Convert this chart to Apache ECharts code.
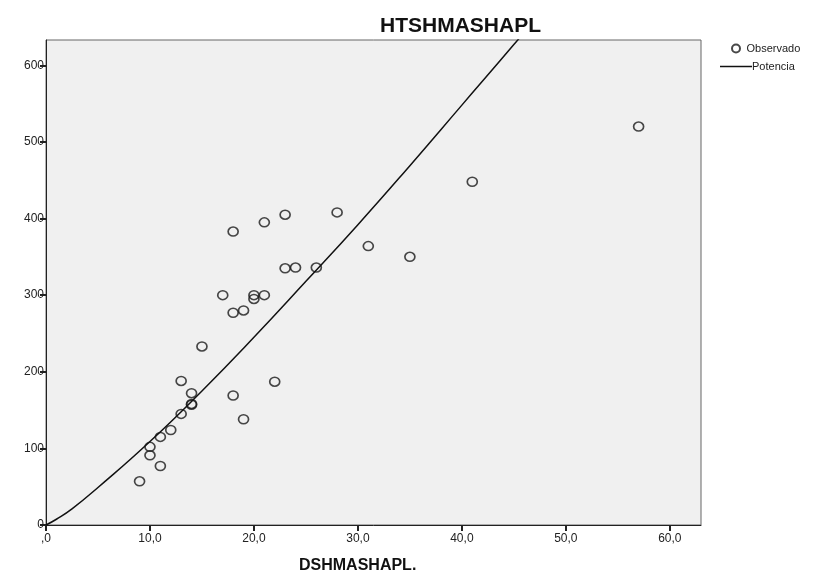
<!DOCTYPE html>
<html>
<head>
<meta charset="utf-8">
<script src="https://cdn.jsdelivr.net/npm/echarts@6/dist/echarts.min.js"></script>
<style>html,body{margin:0;padding:0;background:#fff}#c{width:835px;height:578px}</style>
</head>
<body>
<div id="c"></div>
<script>
// Observed points (DSHMASHAPL., HTSHMASHAPL)
const obsX = [9, 11, 10, 10, 11, 12, 13, 14, 14, 14, 13, 15, 18, 19, 17, 20, 20, 21, 18, 19, 22, 18, 21, 23, 28, 23, 24, 26, 31, 35, 41, 57];
const obsY = [57, 77, 91, 102, 115, 124, 145, 157, 158, 172, 188, 233, 277, 280, 300, 300, 295, 300, 169, 138, 187, 383, 395, 405, 408, 335, 336, 336, 364, 350, 448, 520];
// Power-fit curve ("Potencia") points
const fitX = [0, 1, 2.5, 5, 10, 15, 20, 25, 30, 35, 40, 45, 50];
const fitY = [0, 7.5, 21, 49, 109, 175, 245, 318, 392, 469, 548, 627, 708];
const xTicks = [0, 10, 20, 30, 40, 50, 60];
const yTicks = [0, 100, 200, 300, 400, 500, 600];

const font = 'Liberation Sans, Arial, sans-serif';
const chart = echarts.init(document.getElementById('c'));
chart.setOption({
  animation: false,
  backgroundColor: '#fff',
  title: [
    {text: 'HTSHMASHAPL', left: 375, top: 11, textStyle: {fontFamily: font, fontSize: 21, fontWeight: 'bold', color: '#111'}},
    {text: 'DSHMASHAPL.', left: 294, top: 553, textStyle: {fontFamily: font, fontSize: 16, fontWeight: 'bold', color: '#111'}}
  ],
  legend: [
    {data: ['Observado'], left: 726, top: 38, orient: 'vertical', icon: 'circle', itemWidth: 9, itemHeight: 8, itemGap: 2,
     textStyle: {fontFamily: font, fontSize: 11, color: '#222', padding: [0,0,0,1]}},
    {data: ['Potencia'], left: 715, top: 56, orient: 'vertical', icon: 'rect', itemWidth: 32, itemHeight: 1.5, itemGap: 2,
     textStyle: {fontFamily: font, fontSize: 11, color: '#222', padding: [0,0,0,-5]}}
  ],
  grid: {left: 46, right: 134, top: 40, bottom: 53, show: true, backgroundColor: '#f0f0f0', borderColor: '#666', borderWidth: 1},
  xAxis: {
    type: 'value', min: 0, max: 63, interval: 10,
    axisLine: {show: true, onZero: false, lineStyle: {color: '#222', width: 1}},
    axisTick: {show: true, length: 6, lineStyle: {color: '#222', width: 2}, customValues: xTicks},
    axisLabel: {fontFamily: font, fontSize: 12, color: '#222', margin: 8, customValues: xTicks,
      formatter: v => (v === 0 ? ',0' : v.toFixed(1).replace('.', ','))},
    splitLine: {show: false}
  },
  yAxis: {
    type: 'value', min: 0, max: 633, interval: 100,
    axisLine: {show: true, onZero: false, lineStyle: {color: '#222', width: 1}},
    axisTick: {show: true, length: 6, lineStyle: {color: '#222', width: 2}, customValues: yTicks},
    axisLabel: {fontFamily: font, fontSize: 12, color: '#222', margin: 2, customValues: yTicks},
    splitLine: {show: false}
  },
  series: [
    {name: 'Observado', type: 'scatter', data: obsX.map((x, i) => [x, obsY[i]]),
     symbol: 'circle', symbolSize: [10, 9],
     itemStyle: {color: 'rgba(0,0,0,0)', borderColor: '#1a1a1a', borderWidth: 1.6}},
    {name: 'Potencia', type: 'line', data: fitX.map((x, i) => [x, fitY[i]]), smooth: true, showSymbol: false, clip: true,
     lineStyle: {color: '#111', width: 1.5}, itemStyle: {color: '#111'}}
  ]
});
</script>
</body>
</html>
